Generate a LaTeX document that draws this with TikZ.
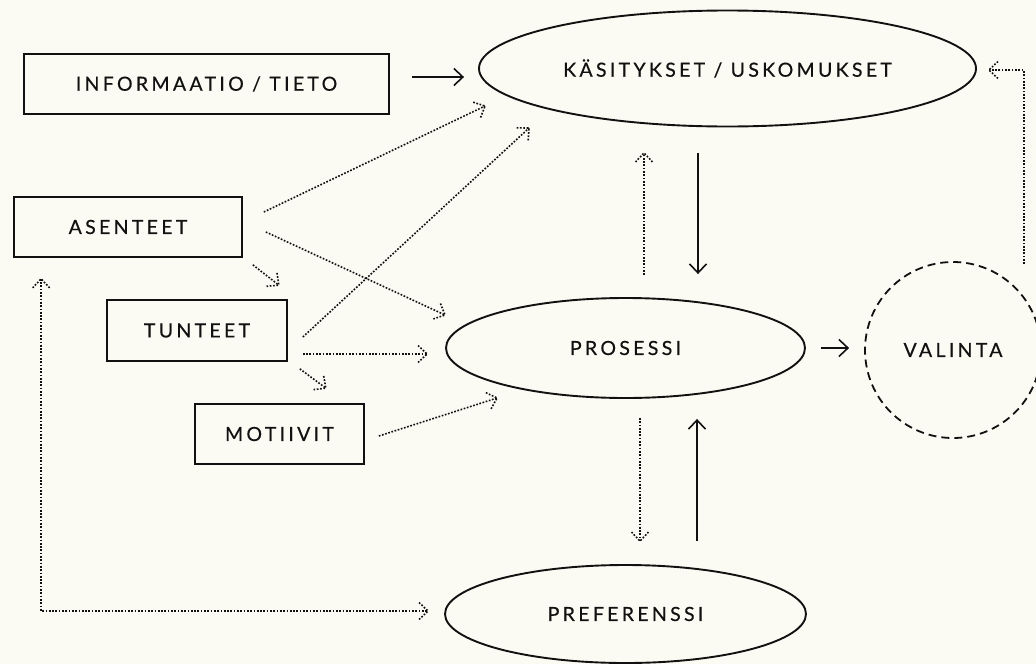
\documentclass[tikz,border=0pt]{standalone}
\usepackage{fontspec}
\setmainfont{Lato}
\newfontfamily\lblfont[LetterSpace=17,FakeBold=0.4]{Lato}
\usetikzlibrary{arrows.meta,decorations.markings,calc,shapes.geometric}
\definecolor{bgc}{HTML}{FCFBF3}
\definecolor{ink}{HTML}{111111}
\tikzset{
  lbl/.style={font=\lblfont\fontsize{19.5}{22}\selectfont, text=ink},
  boxnode/.style={draw=ink, line width=1.7pt, rectangle, inner sep=0pt, lbl},
  ellnode/.style={draw=ink, line width=1.9pt, ellipse, inner sep=0pt, lbl},
  solidarr/.style={draw=ink, line width=1.6pt, -{Straight Barb[length=9pt,width=17pt,line width=1.6pt]}},
  dotpat/.style={line width=1.6pt, dash pattern=on 1.7pt off 1.6pt},
  dotline/.style={draw=ink, dotpat},
  dotarr/.style={dotline, postaction={decorate},
    decoration={markings, mark=at position 1 with {\draw[ink, dotpat] (-9pt,8.5pt) -- (0pt,0pt) -- (-9pt,-8.5pt);}}},
  dotarrboth/.style={dotline, postaction={decorate},
    decoration={markings,
      mark=at position 0 with {\draw[ink, dotpat] (9pt,8.5pt) -- (0pt,0pt) -- (9pt,-8.5pt);},
      mark=at position 1 with {\draw[ink, dotpat] (-9pt,8.5pt) -- (0pt,0pt) -- (-9pt,-8.5pt);}}},
  dashcircle/.style={draw=ink, line width=1.8pt, dash pattern=on 8pt off 5pt, circle, inner sep=0pt, lbl},
}
\begin{document}
\begin{tikzpicture}[x=1pt,y=-1pt]
\fill[bgc] (0,0) rectangle (1036,664);
\useasboundingbox (0,0) rectangle (1036,664);

% nodes
\node[boxnode, minimum width=365pt, minimum height=60pt] (info) at (206.5,84) {INFORMAATIO / TIETO};
\node[boxnode, minimum width=228pt, minimum height=60pt] (asenteet) at (128,227) {ASENTEET};
\node[boxnode, minimum width=180pt, minimum height=61pt] (tunteet) at (197,330.5) {TUNTEET};
\node[boxnode, minimum width=169pt, minimum height=60pt] (motiivit) at (279.5,434) {MOTIIVIT};
\node[ellnode, minimum width=497pt, minimum height=116pt] (kasit) at (727.5,68.5) {KÄSITYKSET / USKOMUKSET};
\node[ellnode, minimum width=359pt, minimum height=100pt] (prosessi) at (625.5,348) {PROSESSI};
\node[ellnode, minimum width=361pt, minimum height=98pt] (pref) at (625.5,614) {PREFERENSSI};
\node[dashcircle, minimum size=176pt] (valinta) at (953,350) {VALINTA};

% connectors
\draw[solidarr] ([shift={(22,-7)}]info.east) -- ([shift={(-14,8.5)}]kasit.west);
\draw[dotarr] ([shift={(21,-15)}]asenteet.east) -- ([shift={(7,37.5)}]kasit.west);
\draw[dotarr] ([shift={(23,5)}]asenteet.east) -- ([shift={(0,-33)}]prosessi.west);
\draw[dotarr] ([shift={(10,7)}]asenteet.south east) -- ([shift={(-9,-14)}]tunteet.north east);
\draw[dotarr] ([shift={(15,6.5)}]tunteet.east) -- ([shift={(51,59.5)}]kasit.west);
\draw[dotarr] ([shift={(15,23.5)}]tunteet.east) -- ([shift={(-18,6)}]prosessi.west);
\draw[dotarr] ([shift={(12,7)}]tunteet.south east) -- ([shift={(-39,-15)}]motiivit.north east);
\draw[dotarr] ([shift={(14,2)}]motiivit.east) -- ([shift={(52,50)}]prosessi.west);
\draw[dotarr] ([shift={(18.5,-22)}]prosessi.north) -- ([shift={(-83.5,25.5)}]kasit.south);
\draw[solidarr] ([shift={(-29.5,25.5)}]kasit.south) -- ([shift={(72.5,-23)}]prosessi.north);
\draw[solidarr] ([shift={(15,0)}]prosessi.east) -- ([shift={(-15,-2)}]valinta.west);
\draw[dotarr] ([shift={(-18,-86)}]valinta.east) |- ([shift={(12,1.5)}]kasit.east);
\draw[dotarr] ([shift={(14.5,19)}]prosessi.south) -- ([shift={(14.5,-23)}]pref.north);
\draw[solidarr] ([shift={(71.5,-23)}]pref.north) -- ([shift={(71.5,20)}]prosessi.south);
\draw[dotarrboth] ([shift={(28,21)}]asenteet.south west) |- ([shift={(-16,-3)}]pref.west);
\end{tikzpicture}
\end{document}
